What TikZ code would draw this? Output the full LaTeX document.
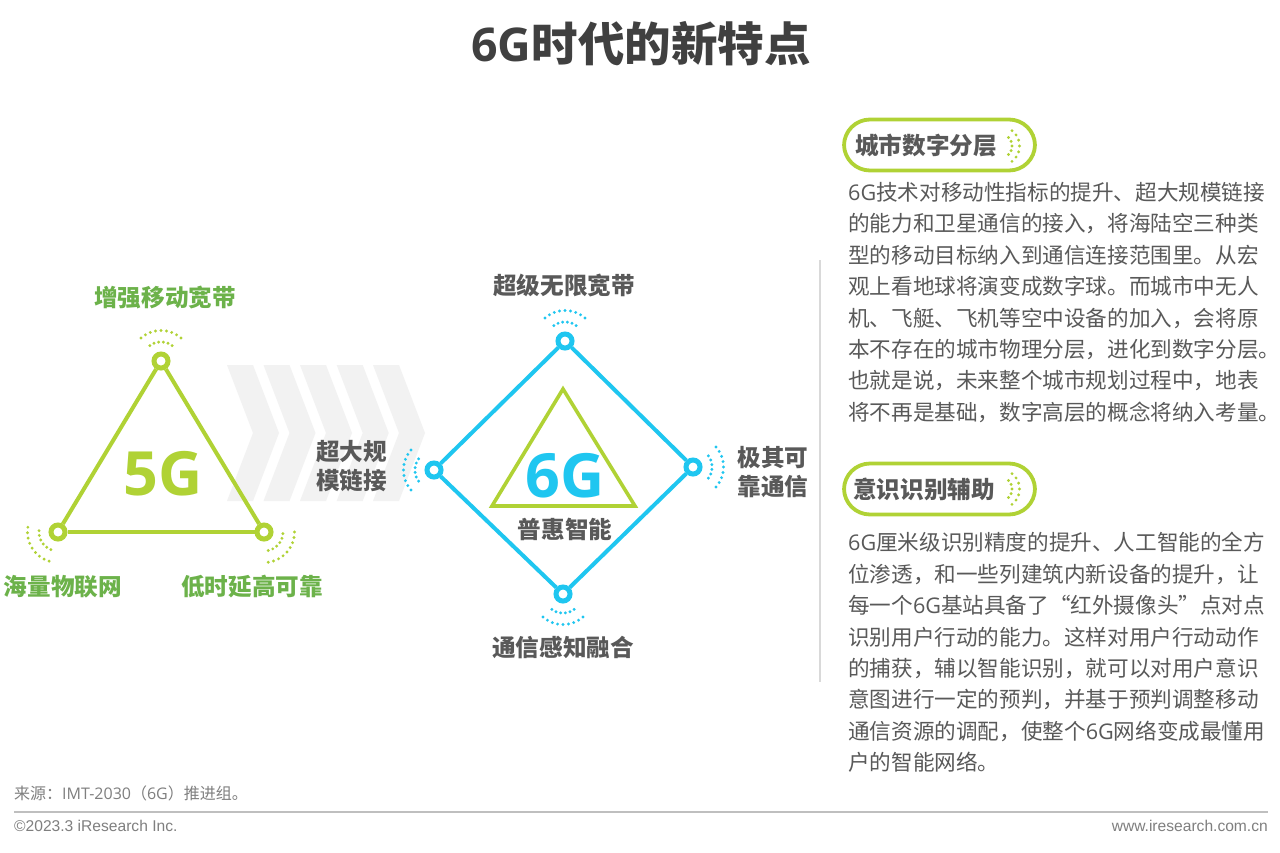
\documentclass[tikz,border=0pt]{standalone}
\usepackage{fontspec}
\setmainfont{Noto Sans CJK SC}
\newfontfamily\opensans[BoldFont={Open Sans Bold}]{Open Sans}
\newfontfamily\arialf{Liberation Sans}
\newcommand{\lat}[1]{{\opensans #1}}
\definecolor{grn}{HTML}{B0D235}
\definecolor{blu}{HTML}{1FC6F0}
\definecolor{lab}{HTML}{6CB24A}
\definecolor{txt}{HTML}{595959}
\definecolor{ttl}{HTML}{404040}
\definecolor{body}{HTML}{595959}
\definecolor{foot}{HTML}{7F7F7F}
\definecolor{chev}{HTML}{F2F2F2}
\newcommand{\dotarc}[6]{%
  \pgfmathsetmacro{\dstep}{2*#4/(#5-1)}%
  \foreach \k in {1,...,#5}{%
    \pgfmathsetmacro{\dang}{#2-#4+(\k-1)*\dstep}%
    \fill[#6] (#1) ++(\dang:#3) circle (1.6pt);%
  }}
\newcommand{\wave}[3]{\dotarc{#1}{#2}{19}{36}{6}{#3}\dotarc{#1}{#2}{30.5}{41}{9}{#3}}
\newcommand{\chevron}[1]{\fill[chev] (#1,365) -- ++(26,0) -- ++(26,68) -- ++(-26,68) -- ++(-26,0) -- ++(26,-68) -- cycle;}
\tikzset{
  vertg/.style={circle,draw=grn,fill=white,line width=5pt,inner sep=0pt,minimum size=14pt},
  vertb/.style={circle,draw=blu,fill=white,line width=5pt,inner sep=0pt,minimum size=14pt},
  edgeg/.style={draw=grn,line width=4pt},
  edgeb/.style={draw=blu,line width=4pt},
  greenlab/.style={font=\fontsize{23.6}{28}\selectfont\bfseries,text=lab,inner sep=0pt},
  graylab/.style={font=\fontsize{23.6}{29}\selectfont\bfseries,text=txt,inner sep=0pt,align=center},
  bigg/.style={font=\fontsize{61}{64}\selectfont\opensans\bfseries,inner sep=0pt},
  pill/.style={draw=grn,line width=3.8pt,rounded corners=26pt,minimum width=191pt,minimum height=51pt,inner sep=0pt},
  para/.style={font=\fontsize{21.6}{31.4}\selectfont,text=body,align=left,anchor=west,inner sep=0pt},
  footnote/.style={text=foot,inner sep=0pt},
}
\begin{document}
\begin{tikzpicture}[x=1pt,y=-1pt]
\useasboundingbox (0,0) rectangle (1280,852);
\fill[white] (0,0) rectangle (1280,852);
\node[font=\fontsize{46.5}{50}\selectfont\bfseries,text=ttl,inner sep=0pt] (title) at (641,44) {\lat{6G}时代的新特点};
% chevrons
\chevron{227}\chevron{263.5}\chevron{300}\chevron{336.7}\chevron{373}
% 5G triangle
\node[vertg] (a) at (161,361) {};
\node[vertg] (b) at (58,532) {};
\node[vertg] (c) at (264,532) {};
\draw[edgeg] (a) -- (b);
\draw[edgeg] (b) -- (c);
\draw[edgeg] (c) -- (a);
\wave{a}{270}{grn}\wave{b}{148}{grn}\wave{c}{41}{grn}
\node[bigg,text=grn] (g5) at (163,474) {5G};
\node[greenlab] (l1) at (165,298) {增强移动宽带};
\node[greenlab] (l2) at (63,587) {海量物联网};
\node[greenlab] (l3) at (252,587) {低时延高可靠};
% 6G diamond
\node[vertb] (p) at (565,341) {};
\node[vertb] (q) at (434,470) {};
\node[vertb] (r) at (693,467) {};
\node[vertb] (s) at (563,594) {};
\draw[edgeb] (p) -- (q);
\draw[edgeb] (q) -- (s);
\draw[edgeb] (s) -- (r);
\draw[edgeb] (r) -- (p);
\wave{p}{270}{blu}\wave{q}{180}{blu}\wave{r}{0}{blu}\wave{s}{90}{blu}
\draw[draw=grn,line width=3.6pt,line join=miter] (563,389) -- (492,506) -- (635,506) -- cycle;
\node[bigg,text=blu] (g6) at (565,476) {6G};
\node[graylab] (m0) at (565,529) {普惠智能};
\node[graylab] (m1) at (564,285) {超级无限宽带};
\node[graylab] (m2) at (563,647) {通信感知融合};
\node[graylab] (m3) at (351.5,466.5) {超大规\\模链接};
\node[graylab] (m4) at (773,472.5) {极其可\\靠通信};
% divider
\draw[draw=black!15,line width=1.2pt] (820,260) -- (820,682);
% pills
\node[pill] (pa) at (939.5,145) {};
\node[pill] (pb) at (939.5,489) {};
\node[graylab,anchor=west] (ta) at (855,146) {城市数字分层};
\node[graylab,anchor=west] (tb) at (853,489) {意识识别辅助};
\coordinate (ca) at (1000,146);
\coordinate (cb) at (1000,489);
\dotarc{ca}{0}{12}{45}{5}{grn}\dotarc{ca}{0}{19.5}{52}{7}{grn}
\dotarc{cb}{0}{12}{45}{5}{grn}\dotarc{cb}{0}{19.5}{52}{7}{grn}
% paragraphs
\node[para] (t1) at (848,302.5) {\lat{6G}技术对移动性指标的提升、超大规模链接\\
的能力和卫星通信的接入，将海陆空三种类\\
型的移动目标纳入到通信连接范围里。从宏\\
观上看地球将演变成数字球。而城市中无人\\
机、飞艇、飞机等空中设备的加入，会将原\\
本不存在的城市物理分层，进化到数字分层。\\
也就是说，未来整个城市规划过程中，地表\\
将不再是基础，数字高层的概念将纳入考量。};
\node[para] (t2) at (848,652.5) {\lat{6G}厘米级识别精度的提升、人工智能的全方\\
位渗透，和一些列建筑内新设备的提升，让\\
每一个\lat{6G}基站具备了“红外摄像头”点对点\\
识别用户行动的能力。这样对用户行动动作\\
的捕获，辅以智能识别，就可以对用户意识\\
意图进行一定的预判，并基于预判调整移动\\
通信资源的调配，使整个\lat{6G}网络变成最懂用\\
户的智能网络。};
% footer
\node[footnote,anchor=west,font=\fontsize{16}{18}\selectfont] (src) at (14,793) {来源：\lat{IMT-2030}（\lat{6G}）推进组。};
\coordinate (fl) at (14,812);
\coordinate (fr) at (1268,812);
\draw[draw=black!25,line width=1.5pt] (fl) -- (fr);
\node[footnote,anchor=west,font=\fontsize{15.6}{18}\selectfont\arialf] (cp) at (14,826) {©2023.3 iResearch Inc.};
\node[footnote,anchor=east,font=\fontsize{15.6}{18}\selectfont\arialf] (web) at (1268,826) {www.iresearch.com.cn};
\end{tikzpicture}
\end{document}
